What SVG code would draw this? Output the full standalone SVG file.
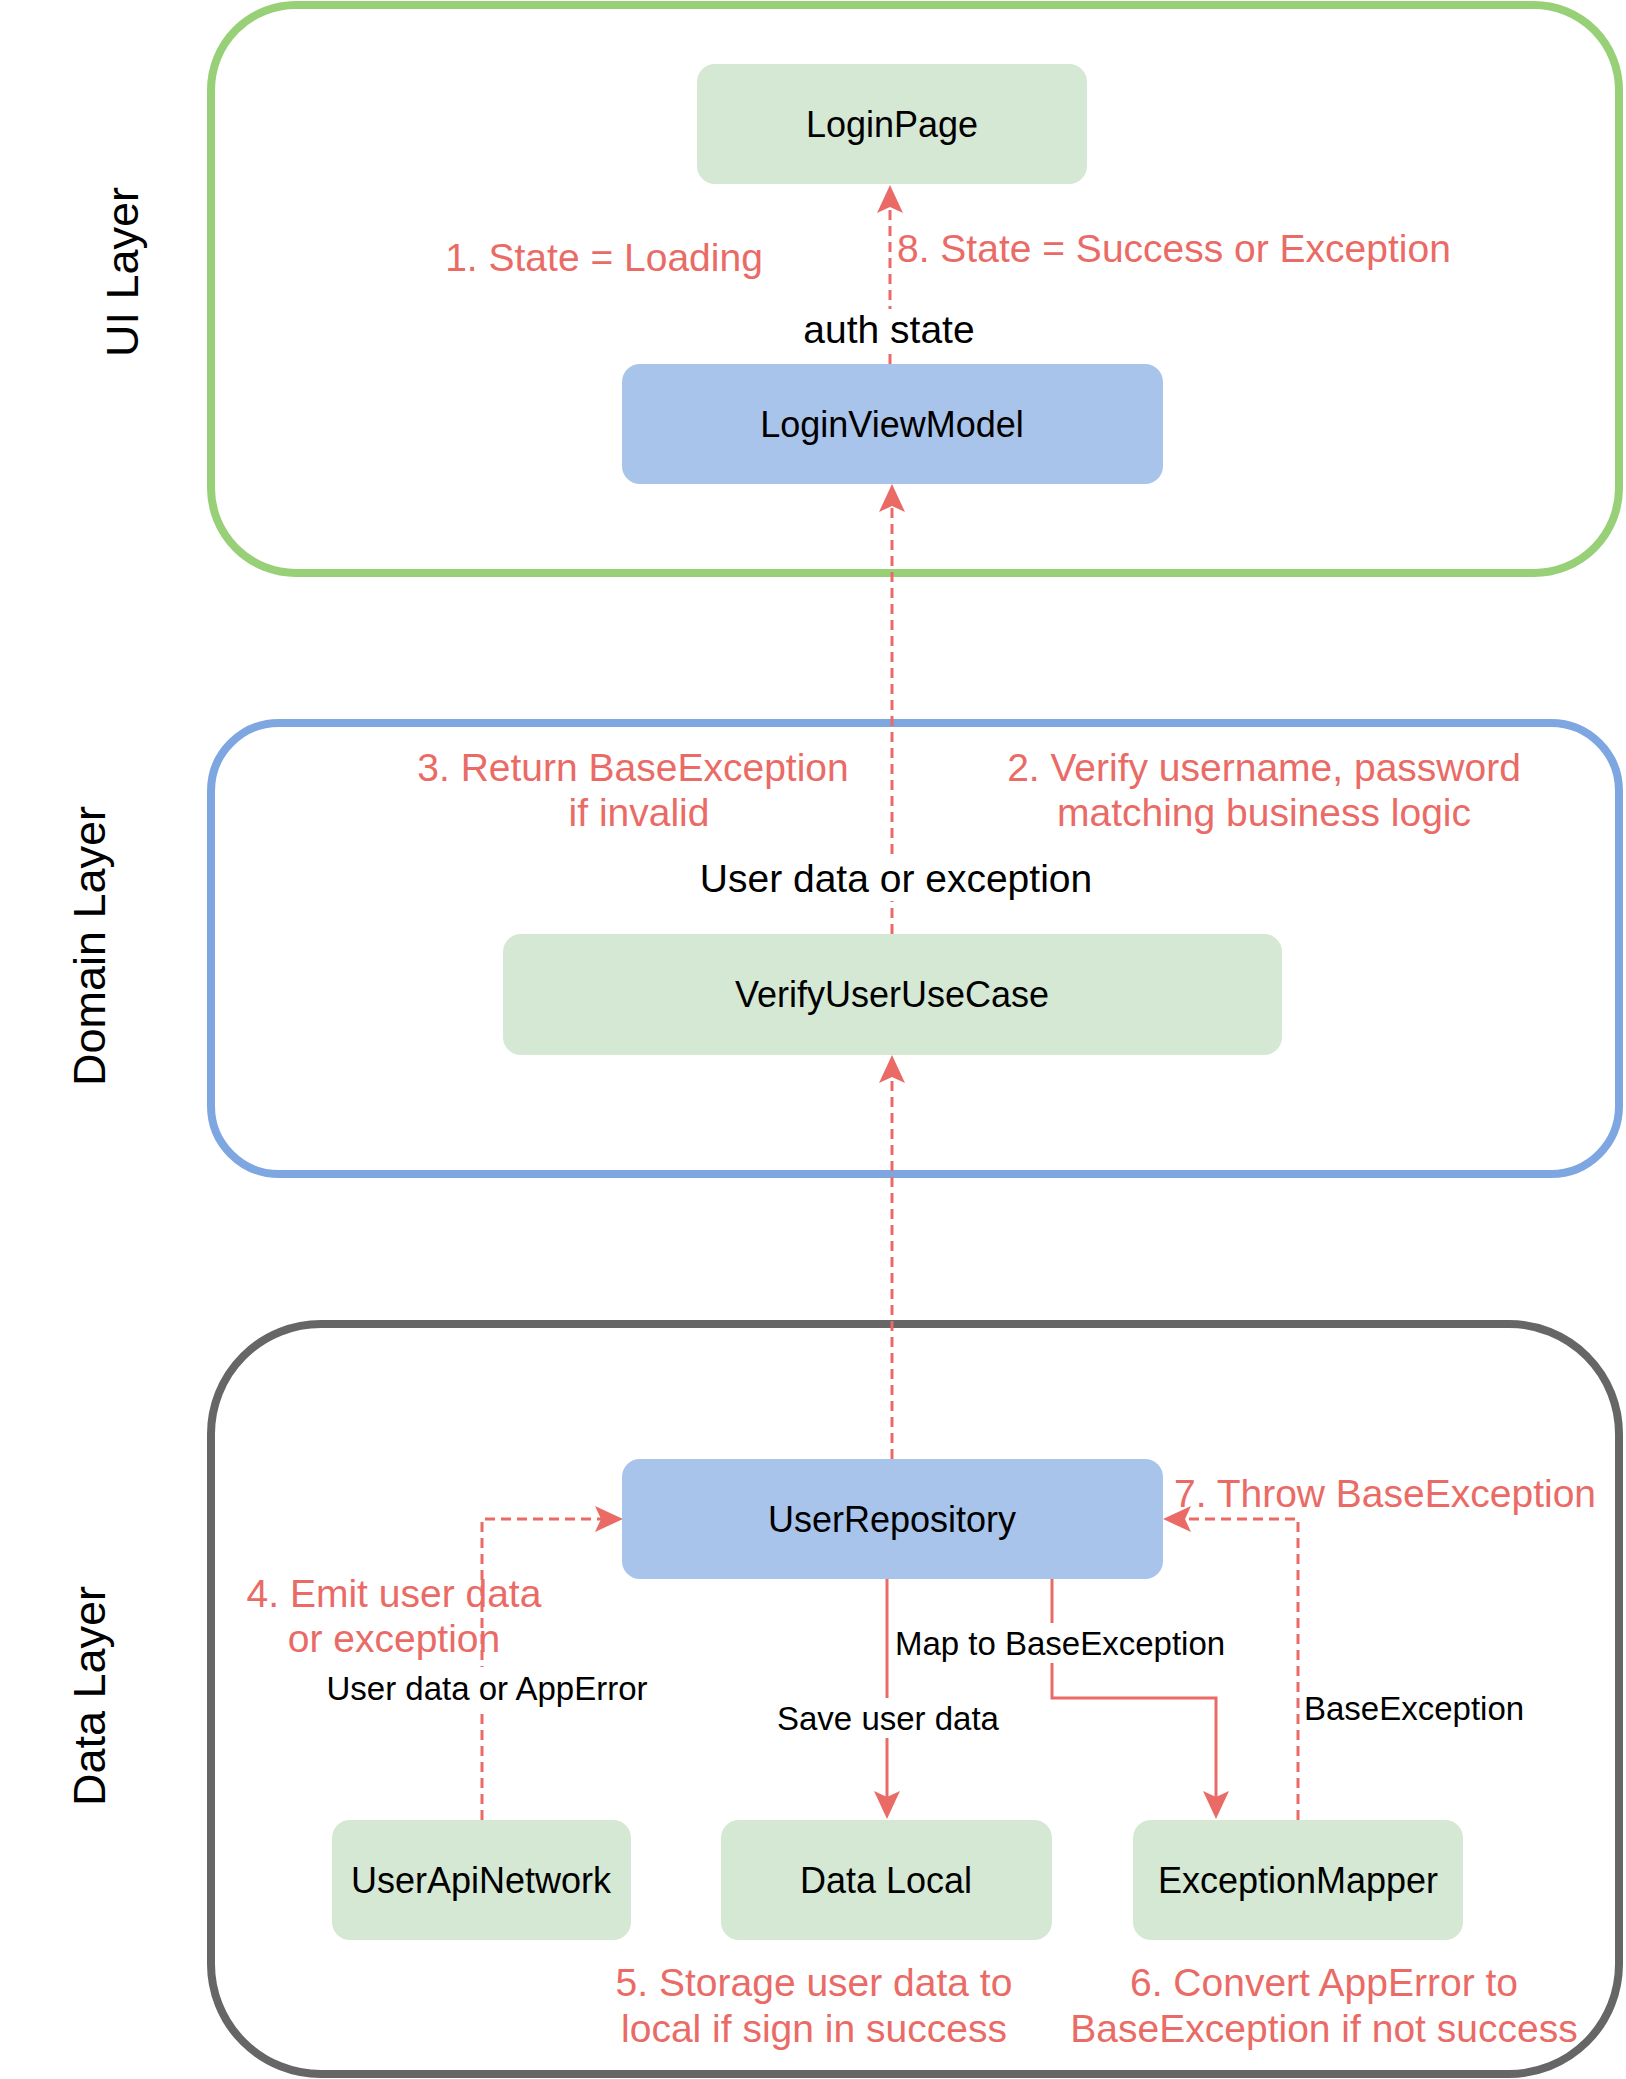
<svg xmlns="http://www.w3.org/2000/svg" width="1626" height="2079" viewBox="0 0 1626 2079">
  <style>
    text { font-family: "Liberation Sans", Arial, Helvetica, sans-serif; }
    .layer { fill: #ffffff; stroke-width: 8; }
    .node-g { fill: #D5E8D4; }
    .node-b { fill: #A9C4EB; }
    .nlabel { font-size: 36px; fill: #000000; text-anchor: middle; }
    .llabel { font-size: 45px; fill: #000000; text-anchor: middle; }
    .red { font-size: 39px; fill: #EA6B66; text-anchor: middle; }
    .blk { font-size: 39px; fill: #000000; text-anchor: middle; }
    .sm { font-size: 33px; fill: #000000; text-anchor: middle; }
    .edge { fill: none; stroke: #EA6B66; stroke-width: 3; }
    .dash { stroke-dasharray: 10 6; }
    .bg { fill: #ffffff; }
  </style>
  <defs>
    <marker id="arrow" viewBox="0 -14 30 28" markerWidth="30" markerHeight="28" refX="6" refY="0" orient="auto" markerUnits="userSpaceOnUse">
      <path d="M0,-13 L28,0 L0,13 L6,0 Z" fill="#EA6B66"/>
    </marker>
  </defs>

  <g id="ui-layer">
    <rect class="layer" x="211" y="5" width="1408" height="568" rx="85" ry="85" stroke="#97D077"/>
    <text class="llabel" transform="rotate(-90 138 272)" x="138" y="272">UI Layer</text>
  </g>
  <g id="domain-layer">
    <rect class="layer" x="211" y="723" width="1408" height="451" rx="68" ry="68" stroke="#7EA6E0"/>
    <text class="llabel" transform="rotate(-90 105 946)" x="105" y="946">Domain Layer</text>
  </g>
  <g id="data-layer">
    <rect class="layer" x="211" y="1324" width="1408" height="750" rx="110" ry="110" stroke="#666666"/>
    <text class="llabel" transform="rotate(-90 105 1696)" x="105" y="1696">Data Layer</text>
  </g>

  <g id="connectors">
    <path class="edge dash" d="M890,364 L890,207" marker-end="url(#arrow)"/>
    <path class="edge dash" d="M892,934 L892,506" marker-end="url(#arrow)"/>
    <path class="edge dash" d="M892,1459 L892,1077" marker-end="url(#arrow)"/>
    <path class="edge dash" d="M482,1820 L482,1519 L601,1519" marker-end="url(#arrow)"/>
    <path class="edge" d="M887,1579 L887,1797" marker-end="url(#arrow)"/>
    <path class="edge" d="M1052,1579 L1052,1698 L1216,1698 L1216,1797" marker-end="url(#arrow)"/>
    <path class="edge dash" d="M1298,1820 L1298,1519 L1185,1519" marker-end="url(#arrow)"/>

    <rect class="bg" x="801" y="309" width="176" height="45"/>
    <text class="blk" x="889" y="343">auth state</text>
    <rect class="bg" x="697" y="855" width="398" height="46"/>
    <text class="blk" x="896" y="892">User data or exception</text>
    <rect class="bg" x="325" y="1667" width="324" height="42"/>
    <text class="sm" x="487" y="1700">User data or AppError</text>
    <rect class="bg" x="776" y="1698" width="224" height="40"/>
    <text class="sm" x="888" y="1730">Save user data</text>
    <rect class="bg" x="893" y="1623" width="334" height="40"/>
    <text class="sm" x="1060" y="1655">Map to BaseException</text>
    <text class="sm" x="1304" y="1720" style="text-anchor:start">BaseException</text>
  </g>

  <g id="LoginPage">
    <rect class="node-g" x="697" y="64" width="390" height="120" rx="18" ry="18"/>
    <text class="nlabel" x="892" y="137">LoginPage</text>
  </g>
  <g id="LoginViewModel">
    <rect class="node-b" x="622" y="364" width="541" height="120" rx="18" ry="18"/>
    <text class="nlabel" x="892" y="437">LoginViewModel</text>
  </g>
  <g id="VerifyUserUseCase">
    <rect class="node-g" x="503" y="934" width="779" height="121" rx="18" ry="18"/>
    <text class="nlabel" x="892" y="1007">VerifyUserUseCase</text>
  </g>
  <g id="UserRepository">
    <rect class="node-b" x="622" y="1459" width="541" height="120" rx="18" ry="18"/>
    <text class="nlabel" x="892" y="1532">UserRepository</text>
  </g>
  <g id="UserApiNetwork">
    <rect class="node-g" x="332" y="1820" width="299" height="120" rx="18" ry="18"/>
    <text class="nlabel" x="481" y="1893">UserApiNetwork</text>
  </g>
  <g id="DataLocal">
    <rect class="node-g" x="721" y="1820" width="331" height="120" rx="18" ry="18"/>
    <text class="nlabel" x="886" y="1893">Data Local</text>
  </g>
  <g id="ExceptionMapper">
    <rect class="node-g" x="1133" y="1820" width="330" height="120" rx="18" ry="18"/>
    <text class="nlabel" x="1298" y="1893">ExceptionMapper</text>
  </g>

  <g id="annotations">
    <text class="red" x="604" y="271">1. State = Loading</text>
    <text class="red" x="897" y="262" style="text-anchor:start">8. State = Success or Exception</text>
    <text class="red" x="633" y="781">3. Return BaseException</text>
    <text class="red" x="639" y="826">if invalid</text>
    <text class="red" x="1264" y="781">2. Verify username, password</text>
    <text class="red" x="1264" y="826">matching business logic</text>
    <text class="red" x="394" y="1607">4. Emit user data</text>
    <text class="red" x="394" y="1652">or exception</text>
    <text class="red" x="1174" y="1507" style="text-anchor:start">7. Throw BaseException</text>
    <text class="red" x="814" y="1996">5. Storage user data to</text>
    <text class="red" x="814" y="2042">local if sign in success</text>
    <text class="red" x="1324" y="1996">6. Convert AppError to</text>
    <text class="red" x="1324" y="2042">BaseException if not success</text>
  </g>
</svg>
